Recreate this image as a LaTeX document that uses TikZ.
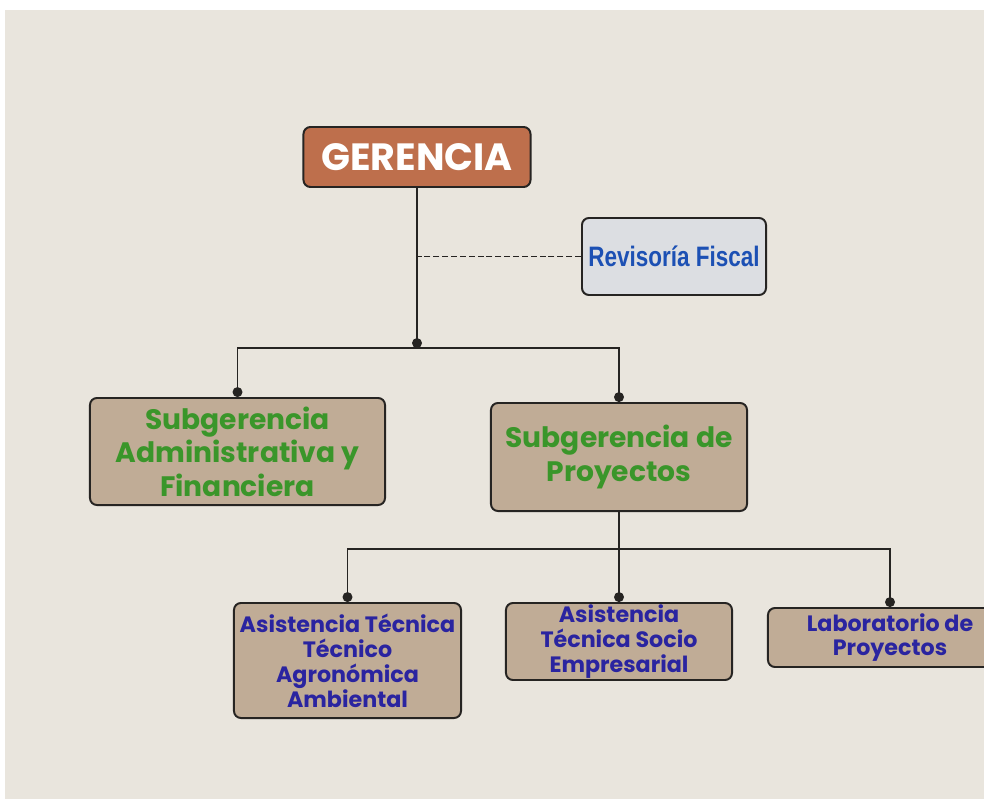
\documentclass[tikz,border=0pt]{standalone}
\usepackage{fontspec}
\setmainfont{Poppins}
\newfontfamily\narrowfont[FakeStretch=0.8]{Liberation Sans}
\usepackage{tikz}
\usetikzlibrary{arrows.meta}

\definecolor{paper}{RGB}{233,229,221}
\definecolor{edge}{RGB}{38,36,34}
\definecolor{terra}{RGB}{190,111,76}
\definecolor{tan}{RGB}{192,172,150}
\definecolor{mist}{RGB}{220,222,226}
\definecolor{leaf}{RGB}{58,150,42}
\definecolor{navy}{RGB}{42,36,160}
\definecolor{royal}{RGB}{28,80,180}

\begin{document}
\begin{tikzpicture}[x=0.025cm,y=-0.025cm,->,>={Circle[length=7pt]},
  line width=1.4pt,draw=edge,
  box/.style={draw=edge,line width=1.4pt,rounded corners=5pt,align=center,inner sep=0pt},
  head node/.style={box,fill=terra,text=white,font=\fontsize{27}{32}\selectfont\bfseries},
  audit node/.style={box,fill=mist,text=royal,font=\narrowfont\fontsize{20}{24}\selectfont\bfseries},
  sub node/.style={box,fill=tan,text=leaf,font=\fontsize{20}{23.8}\selectfont\bfseries},
  unit node/.style={box,fill=tan,text=navy,font=\fontsize{15.8}{17.7}\selectfont\bfseries}]

  \useasboundingbox (0,0) rectangle (984,799);
  \clip (0,0) rectangle (984,799);
  \fill[white] (0,0) rectangle (984,799);
  \fill[paper] (5,10) rectangle (984,799);

  \node[head node,minimum width=5.675cm,minimum height=1.5cm] (1) at (417,157) {GERENCIA};
  \node[audit node,minimum width=4.6cm,minimum height=1.925cm] (2) at (674,256.5) {Revisoría Fiscal};
  \node[sub node,minimum width=7.375cm,minimum height=2.675cm] (3) at (237.5,451.5)
    {Subgerencia\\Administrativa y\\Financiera};
  \node[sub node,minimum width=6.4cm,minimum height=2.7cm] (4) at (619,457)
    {Subgerencia de\\Proyectos};
  \node[unit node,minimum width=5.675cm,minimum height=2.875cm] (5) at (347.5,660.5)
    {Asistencia Técnica\\Técnico\\Agronómica\\Ambiental};
  \node[unit node,minimum width=5.65cm,minimum height=1.925cm] (6) at (619,641.5)
    {Asistencia\\Técnica Socio\\Empresarial};
  \node[unit node,minimum width=6.1cm,minimum height=1.475cm] (7) at (890,637.5)
    {Laboratorio de\\Proyectos};

  \coordinate (top) at (417,348);
  \coordinate (mid) at (619,549);

  \draw (1.south) -- (top);
  \draw[-,line width=1.4pt,dash pattern=on 4.3pt off 2pt] (2.west) -- (2.west -| 1.south);
  \draw (top) -| (3.north);
  \draw (top) -| (4.north);

  \draw[-] (4.south) -- (mid);
  \draw (mid) -| (5.north);
  \draw (mid) -- (6.north);
  \draw (mid) -| (7.north);

\end{tikzpicture}
\end{document}
